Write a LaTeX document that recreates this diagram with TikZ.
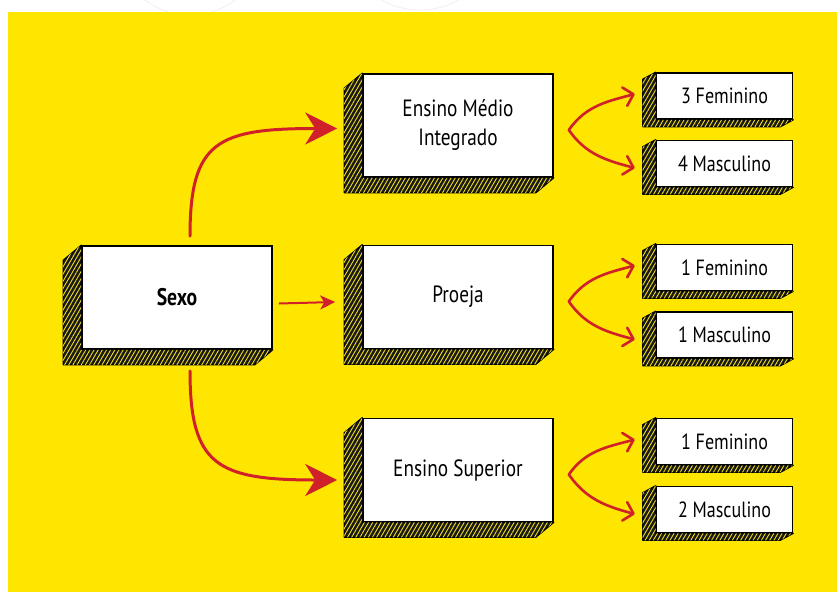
\documentclass[tikz,border=0pt]{standalone}
\usepackage{fontspec}
\setmainfont[FakeStretch=0.82]{PT Sans}
\usetikzlibrary{arrows.meta,patterns.meta,calc}
\definecolor{bgyellow}{HTML}{FFE600}
\definecolor{arrred}{HTML}{D0202A}
\definecolor{hatch}{HTML}{F2DF1C}
\newcommand\extrude[3]{%
  \path[side] (#1.north west) -- ++(#2,#3) -- ($(#1.south west)+(#2,#3)$)
    -- ($(#1.south east)+(#2,#3)$) -- (#1.south east) -- (#1.south west) -- cycle;}
\tikzset{
  bigbox/.style={draw=black, line width=1.6pt, fill=white, minimum width=190pt,
    minimum height=103pt, inner sep=2pt, align=center, font=\fontsize{23.5}{29}\selectfont},
  smallbox/.style={draw=black, line width=1.6pt, fill=white, minimum width=136pt,
    minimum height=46pt, inner sep=2pt, font=\fontsize{22}{24}\selectfont},
  side/.style={fill=black!90, draw=black, line width=1.2pt, line join=round,
    postaction={pattern={Lines[angle=60,distance=3.6pt,line width=0.9pt]}, pattern color=hatch}},
  bigarrow/.style={draw=arrred, line width=3pt, line cap=round,
    -{Stealth[length=32pt,width=32pt,inset=10pt]}},
  midarrow/.style={draw=arrred, line width=2pt, -{Stealth[length=15pt,width=14pt,inset=4pt]}},
  smallarrow/.style={draw=arrred, line width=2.6pt, line cap=round, line join=round,
    -{Straight Barb[length=9pt,width=19pt,line cap=round,line join=round]}}
}
\begin{document}
\begin{tikzpicture}[x=1pt,y=-1pt]
\useasboundingbox (0,0) rectangle (837,592);
\fill[white] (0,0) rectangle (837,592);
\begin{scope}
\clip (0,0) rectangle (837,12);
\draw[gray!12, line width=0.8pt] (190,-60) circle (75) (420,-70) circle (80) (1000,-60) circle (110);
\end{scope}
\fill[bgyellow] (8,12) rectangle (837,592);

% nodes
\node[bigbox, font=\fontsize{24}{29}\selectfont\bfseries] (sexo) at (177,297.5) {Sexo};
\node[bigbox] (emi) at (458,125.5) {Ensino Médio\\Integrado};
\node[bigbox] (proeja) at (458,297) {Proeja};
\node[bigbox] (esup) at (458,470) {Ensino Superior};
\node[smallbox] (f1) at (724.5,96) {3 Feminino};
\node[smallbox] (m1) at (724.5,163.5) {4 Masculino};
\node[smallbox] (f2) at (724.5,267.5) {1 Feminino};
\node[smallbox] (m2) at (724.5,335) {1 Masculino};
\node[smallbox] (f3) at (724.5,441.5) {1 Feminino};
\node[smallbox] (m3) at (724.5,509.5) {2 Masculino};

\extrude{sexo}{-18}{15}
\extrude{emi}{-18}{15}
\extrude{proeja}{-18}{15}
\extrude{esup}{-18}{15}
\foreach \n in {f1,m1,f2,m2,f3,m3}{\extrude{\n}{-13}{7}}

% arrow end points
\coordinate (s1) at ($(sexo.north)+(13,-9)$);
\coordinate (s2) at ($(sexo.south)+(13,21)$);
\coordinate (s3) at ($(sexo.east)+(6,6)$);
\coordinate (e1) at ($(emi.west)+(-25,3)$);
\coordinate (e2) at ($(esup.west)+(-25,10)$);
\coordinate (e3) at ($(proeja.west)+(-27,5)$);

\draw[bigarrow] (s1) .. controls +(0,-95) and +(-120,0) .. (e1);
\draw[bigarrow] (s2) .. controls +(0,95) and +(-120,0) .. (e2);
\draw[midarrow] (s3) -- (e3);

\foreach \b/\f/\m in {emi/f1/m1, proeja/f2/m2, esup/f3/m3}{
  \coordinate (o\b) at ($(\b.east)+(15,4.5)$);
  \coordinate (t\f) at ($(\f.west)+(-21,-2)$);
  \coordinate (t\m) at ($(\m.west)+(-21,4.5)$);
  \draw[smallarrow] (o\b) to[out=55,in=195] (t\f);
  \draw[smallarrow] (o\b) to[out=-55,in=165] (t\m);
}
\end{tikzpicture}
\end{document}
